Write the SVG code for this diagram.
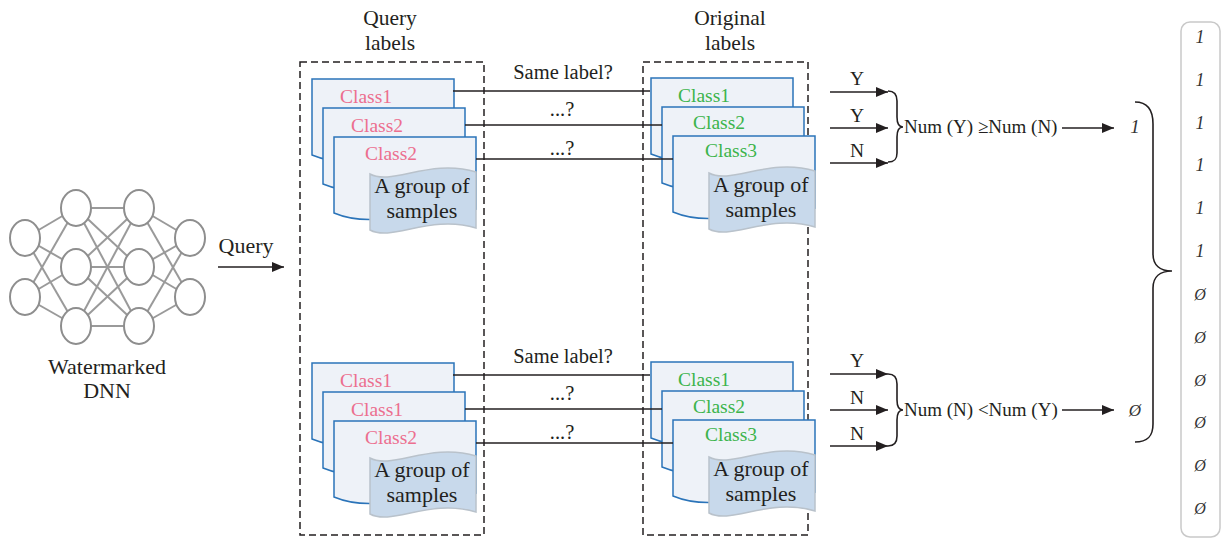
<svg xmlns="http://www.w3.org/2000/svg" width="1225" height="540" viewBox="0 0 1225 540">
  <style>
    text { font-family: "Liberation Serif", "Times New Roman", serif; fill: #231f20; }
    .hd { font-size: 21.5px; text-anchor: middle; }
    .cls-q { font-size: 19.5px; fill: #ec6f8f; }
    .cls-o { font-size: 19.5px; fill: #3cb44b; }
    .tp { font-size: 22px; text-anchor: middle; }
    .mid { font-size: 20.5px; text-anchor: middle; }
    .yn { font-size: 19.5px; text-anchor: middle; }
    .num { font-size: 19px; }
    .bit { font-size: 18px; font-style: italic; text-anchor: middle; fill: #333; }
    .doc { fill: #eef2f8; stroke: #2b74b9; stroke-width: 1.5; }
    .tape { fill: #c8d9eb; stroke: #b9c2cb; stroke-width: 1.5; }
    .box { fill: none; stroke: #231f20; stroke-width: 1.5; stroke-dasharray: 7 4; }
    .ln { stroke: #231f20; stroke-width: 1.6; fill: none; }
    .arr { stroke: #231f20; stroke-width: 1.5; fill: none; marker-end: url(#ah); }
    .nn-e { stroke: #9a9a9a; stroke-width: 2; }
    .nn-n { fill: #fff; stroke: #8e8e8e; stroke-width: 2; }
    .brace { fill: none; stroke: #231f20; stroke-width: 1.6; }
  </style>
  <defs>
    <marker id="ah" markerUnits="userSpaceOnUse" markerWidth="12" markerHeight="10" refX="12" refY="5" orient="auto">
      <path d="M0,0 L12,5 L0,10 Z" fill="#231f20"/>
    </marker>
    <!-- document card with wavy bottom, 142 wide -->
    <path id="docShape" d="M0,0 H142 V72 C105,60 50,97 0,76 Z"/>
    <!-- ribbon-shaped sample tag -->
    <path id="tapeShape" d="M0,2 C22,14 60,-14 106,0 V56 C60,42 22,70 0,58 Z"/>
    <!-- one stack of three labelled documents plus the sample tag -->
    <g id="stackBase">
      <use href="#docShape" class="doc" x="312" y="79"/>
      <use href="#docShape" class="doc" x="323" y="108"/>
      <use href="#docShape" class="doc" x="334" y="137"/>
      <use href="#tapeShape" class="tape" x="370" y="172"/>
      <text class="tp" x="422" y="193">A group of</text>
      <text class="tp" x="422" y="218">samples</text>
    </g>
  </defs>

  <!-- Watermarked DNN -->
  <g id="dnn">
    <g class="nn-e">
      <line x1="25" y1="238" x2="76" y2="208"/><line x1="25" y1="238" x2="76" y2="267"/><line x1="25" y1="238" x2="76" y2="326"/>
      <line x1="25" y1="297" x2="76" y2="208"/><line x1="25" y1="297" x2="76" y2="267"/><line x1="25" y1="297" x2="76" y2="326"/>
      <line x1="76" y1="208" x2="139" y2="208"/><line x1="76" y1="208" x2="139" y2="267"/><line x1="76" y1="208" x2="139" y2="326"/>
      <line x1="76" y1="267" x2="139" y2="208"/><line x1="76" y1="267" x2="139" y2="267"/><line x1="76" y1="267" x2="139" y2="326"/>
      <line x1="76" y1="326" x2="139" y2="208"/><line x1="76" y1="326" x2="139" y2="267"/><line x1="76" y1="326" x2="139" y2="326"/>
      <line x1="139" y1="208" x2="190" y2="238"/><line x1="139" y1="208" x2="190" y2="297"/>
      <line x1="139" y1="267" x2="190" y2="238"/><line x1="139" y1="267" x2="190" y2="297"/>
      <line x1="139" y1="326" x2="190" y2="238"/><line x1="139" y1="326" x2="190" y2="297"/>
    </g>
    <g class="nn-n">
      <ellipse cx="25" cy="238" rx="15" ry="18"/><ellipse cx="25" cy="297" rx="15" ry="18"/>
      <ellipse cx="76" cy="208" rx="15" ry="18"/><ellipse cx="76" cy="267" rx="15" ry="18"/><ellipse cx="76" cy="326" rx="15" ry="18"/>
      <ellipse cx="139" cy="208" rx="15" ry="18"/><ellipse cx="139" cy="267" rx="15" ry="18"/><ellipse cx="139" cy="326" rx="15" ry="18"/>
      <ellipse cx="190" cy="238" rx="15" ry="18"/><ellipse cx="190" cy="297" rx="15" ry="18"/>
    </g>
    <text class="hd" x="107" y="374" style="font-size:22px">Watermarked</text>
    <text class="hd" x="107" y="398" style="font-size:22px">DNN</text>
  </g>

  <!-- column headers and dashed frames -->
  <g id="query-labels">
    <text class="hd" x="390" y="25">Query</text>
    <text class="hd" x="390" y="50">labels</text>
    <rect class="box" x="300" y="62" width="184" height="473"/>
  </g>
  <g id="original-labels">
    <text class="hd" x="730" y="25">Original</text>
    <text class="hd" x="730" y="50">labels</text>
    <rect class="box" x="643" y="62" width="165" height="473"/>
  </g>

  <!-- upper group -->
  <g id="query-stack-1">
    <use href="#stackBase"/>
    <text class="cls-q" x="340" y="103">Class1</text>
    <text class="cls-q" x="351" y="132">Class2</text>
    <text class="cls-q" x="365" y="160">Class2</text>
  </g>
  <g id="original-stack-1" transform="translate(339,-1)">
    <use href="#stackBase"/>
    <text class="cls-o" x="339" y="103">Class1</text>
    <text class="cls-o" x="354" y="130">Class2</text>
    <text class="cls-o" x="366" y="158">Class3</text>
  </g>

  <!-- lower group -->
  <g id="query-stack-2" transform="translate(0,284)">
    <use href="#stackBase"/>
    <text class="cls-q" x="340" y="103">Class1</text>
    <text class="cls-q" x="351" y="132">Class1</text>
    <text class="cls-q" x="365" y="160">Class2</text>
  </g>
  <g id="original-stack-2" transform="translate(339,283)">
    <use href="#stackBase"/>
    <text class="cls-o" x="339" y="103">Class1</text>
    <text class="cls-o" x="354" y="130">Class2</text>
    <text class="cls-o" x="366" y="158">Class3</text>
  </g>

  <!-- decision summaries -->
  <g id="vote-1">
    <path class="brace" d="M888,91 C895,91 897,95 897,101 V117 C897,124 899,127 903,127 C899,127 897,130 897,137 V153 C897,159 895,162 888,162"/>
    <text class="num" x="904" y="133">Num (Y) ≥Num (N)</text>
    <text class="bit" x="1135" y="133" style="font-size:19px">1</text>
  </g>
  <g id="vote-2">
    <path class="brace" d="M888,374 C895,374 897,378 897,384 V400 C897,407 899,410 903,410 C899,410 897,413 897,420 V436 C897,442 895,446 888,446"/>
    <text class="num" x="904" y="416">Num (N) &lt;Num (Y)</text>
    <text class="bit" x="1135" y="416" style="font-size:17px">Ø</text>
  </g>

  <!-- combined watermark bit string -->
  <g id="bits">
    <path class="brace" d="M1135,102 C1148,102 1153,110 1153,124 V254 C1153,265 1160,271 1172,271 C1160,271 1153,277 1153,288 V424 C1153,436 1148,442 1135,442"/>
    <rect x="1181" y="22" width="39" height="515" rx="9" fill="#fff" stroke="#c9c9c9" stroke-width="1.5"/>
    <text class="bit" x="1200" y="43">1</text>
    <text class="bit" x="1200" y="86">1</text>
    <text class="bit" x="1200" y="129">1</text>
    <text class="bit" x="1200" y="171">1</text>
    <text class="bit" x="1200" y="214">1</text>
    <text class="bit" x="1200" y="257">1</text>
    <text class="bit" x="1200" y="300" style="font-size:16px">Ø</text>
    <text class="bit" x="1200" y="343" style="font-size:16px">Ø</text>
    <text class="bit" x="1200" y="386" style="font-size:16px">Ø</text>
    <text class="bit" x="1200" y="428" style="font-size:16px">Ø</text>
    <text class="bit" x="1200" y="471" style="font-size:16px">Ø</text>
    <text class="bit" x="1200" y="514" style="font-size:16px">Ø</text>
  </g>

  <!-- connectors -->
  <g id="connectors">
    <line class="arr" x1="218" y1="267" x2="284" y2="267"/>
    <text class="hd" x="246" y="253" style="font-size:22px">Query</text>

    <line class="ln" x1="453" y1="91" x2="650" y2="91"/>
    <line class="ln" x1="465" y1="125" x2="662" y2="125"/>
    <line class="ln" x1="476" y1="159" x2="673" y2="159"/>
    <text class="mid" x="563" y="79">Same label?</text>
    <text class="mid" x="562" y="116">...?</text>
    <text class="mid" x="562" y="155">...?</text>

    <line class="ln" x1="453" y1="375" x2="650" y2="375"/>
    <line class="ln" x1="465" y1="409" x2="662" y2="409"/>
    <line class="ln" x1="476" y1="443" x2="673" y2="443"/>
    <text class="mid" x="563" y="363">Same label?</text>
    <text class="mid" x="562" y="400">...?</text>
    <text class="mid" x="562" y="439">...?</text>

    <line class="arr" x1="830" y1="92" x2="888" y2="92"/>
    <line class="arr" x1="830" y1="128" x2="888" y2="128"/>
    <line class="arr" x1="830" y1="163" x2="888" y2="163"/>
    <text class="yn" x="857" y="85">Y</text>
    <text class="yn" x="857" y="122">Y</text>
    <text class="yn" x="857" y="157">N</text>
    <line class="arr" x1="1062" y1="128" x2="1114" y2="128"/>

    <line class="arr" x1="830" y1="374" x2="888" y2="374"/>
    <line class="arr" x1="830" y1="410" x2="888" y2="410"/>
    <line class="arr" x1="830" y1="446" x2="888" y2="446"/>
    <text class="yn" x="857" y="367">Y</text>
    <text class="yn" x="857" y="404">N</text>
    <text class="yn" x="857" y="440">N</text>
    <line class="arr" x1="1062" y1="410" x2="1114" y2="410"/>
  </g>
</svg>
